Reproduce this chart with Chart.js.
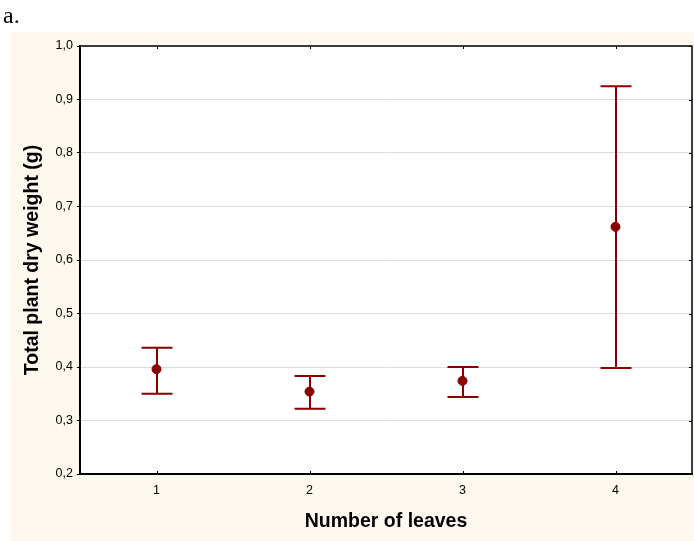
<!DOCTYPE html>
<html>
<head>
<meta charset="utf-8">
<script src="https://cdn.jsdelivr.net/npm/chart.js@4/dist/chart.umd.min.js"></script>
<style>
  html, body { margin: 0; padding: 0; background: #ffffff; }
  #wrap { position: relative; width: 694px; height: 541px; }
</style>
</head>
<body>
<div id="wrap"><canvas id="c" width="694" height="541"></canvas></div>
<script>
// Number of leaves per plant (x categories)
const categories = ['1', '2', '3', '4'];
// Mean total plant dry weight (g)
const means = [0.396, 0.354, 0.374, 0.662];
// Lower and upper whisker ends (g)
const lowerBounds = [0.350, 0.322, 0.344, 0.398];
const upperBounds = [0.436, 0.383, 0.400, 0.925];
// Y axis range and tick spacing
const yMin = 0.2;
const yMax = 1.0;
const yStep = 0.1;

const MARK = '#8b0000';
const PANEL = '#fdf9ef';
const SANS = '"Liberation Sans", Arial, sans-serif';

// Cream panel, white plot area and the "a." panel label
const backdrop = {
  id: 'backdrop',
  beforeDraw(chart) {
    const { ctx, chartArea: a } = chart;
    ctx.save();
    ctx.fillStyle = '#ffffff';
    ctx.fillRect(0, 0, chart.width, chart.height);
    ctx.fillStyle = PANEL;
    ctx.fillRect(10, 32, chart.width - 10, chart.height - 32);
    ctx.fillStyle = '#ffffff';
    ctx.fillRect(a.left, a.top, a.right - a.left, a.bottom - a.top);
    ctx.fillStyle = '#000000';
    ctx.font = '24px "Liberation Serif", "Times New Roman", serif';
    ctx.textBaseline = 'alphabetic';
    ctx.fillText('a.', 3, 23);
    ctx.restore();
  }
};

// Whiskers with caps, drawn under the mean markers
const errorBars = {
  id: 'errorBars',
  beforeDatasetsDraw(chart) {
    const { ctx, scales: { x, y } } = chart;
    const capHalf = 15.5;
    ctx.save();
    ctx.strokeStyle = MARK;
    ctx.lineWidth = 2;
    categories.forEach((c, i) => {
      const px = Math.round(x.getPixelForValue(i));
      const yl = y.getPixelForValue(lowerBounds[i]);
      const yu = y.getPixelForValue(upperBounds[i]);
      ctx.beginPath();
      ctx.moveTo(px, yl); ctx.lineTo(px, yu);
      ctx.moveTo(px - capHalf, yu); ctx.lineTo(px + capHalf, yu);
      ctx.moveTo(px - capHalf, yl); ctx.lineTo(px + capHalf, yl);
      ctx.stroke();
    });
    ctx.restore();
  }
};

// Top and right frame lines with inward tick marks
const frame = {
  id: 'frame',
  afterDraw(chart) {
    const { ctx, chartArea: a, scales: { x, y } } = chart;
    ctx.save();
    ctx.strokeStyle = '#000000';
    ctx.lineWidth = 1.5;
    ctx.beginPath();
    ctx.moveTo(a.left, a.top); ctx.lineTo(a.right, a.top); ctx.lineTo(a.right, a.bottom);
    ctx.stroke();
    ctx.lineWidth = 1;
    ctx.beginPath();
    categories.forEach((c, i) => {
      const px = Math.round(x.getPixelForValue(i)) + 0.5;
      ctx.moveTo(px, a.top); ctx.lineTo(px, a.top + 3);
      ctx.moveTo(px, a.bottom); ctx.lineTo(px, a.bottom - 3);
    });
    y.ticks.forEach(t => {
      const py = Math.round(y.getPixelForValue(t.value)) + 0.5;
      ctx.moveTo(a.right, py); ctx.lineTo(a.right - 3, py);
    });
    ctx.stroke();
    ctx.restore();
  }
};

new Chart(document.getElementById('c'), {
  type: 'line',
  data: {
    labels: categories,
    datasets: [{
      data: means,
      showLine: false,
      pointRadius: 4.5,
      pointHoverRadius: 4.5,
      pointBackgroundColor: MARK,
      pointBorderColor: MARK,
      pointBorderWidth: 1
    }]
  },
  options: {
    responsive: false,
    animation: false,
    layout: { autoPadding: false, padding: { top: 46, right: 2, left: 0, bottom: 0 } },
    plugins: { legend: { display: false }, tooltip: { enabled: false } },
    scales: {
      x: {
        type: 'category',
        offset: true,
        afterFit(s) { s.height = 67; },
        grid: { display: false, drawTicks: false },
        border: { display: true, color: '#000000', width: 2 },
        ticks: {
          color: '#000000',
          padding: 9,
          font: { family: SANS, size: 12.5 }
        },
        title: {
          display: true,
          text: 'Number of leaves',
          color: '#000000',
          font: { family: SANS, size: 19.5, weight: 'bold' },
          padding: { top: 0, bottom: 8 }
        }
      },
      y: {
        min: yMin,
        max: yMax,
        afterFit(s) { s.width = 80; },
        grid: { color: '#dcdcdc', lineWidth: 1, tickLength: 3, tickColor: '#000000', tickWidth: 1 },
        border: { display: true, color: '#000000', width: 2 },
        ticks: {
          stepSize: yStep,
          color: '#000000',
          padding: 4,
          font: { family: SANS, size: 12.5 },
          callback: v => v.toFixed(1).replace('.', ',')
        },
        title: {
          display: true,
          text: 'Total plant dry weight (g)',
          color: '#000000',
          font: { family: SANS, size: 19.5, weight: 'bold' },
          padding: { top: 21, bottom: 0 }
        }
      }
    }
  },
  plugins: [backdrop, errorBars, frame]
});
</script>
</body>
</html>
